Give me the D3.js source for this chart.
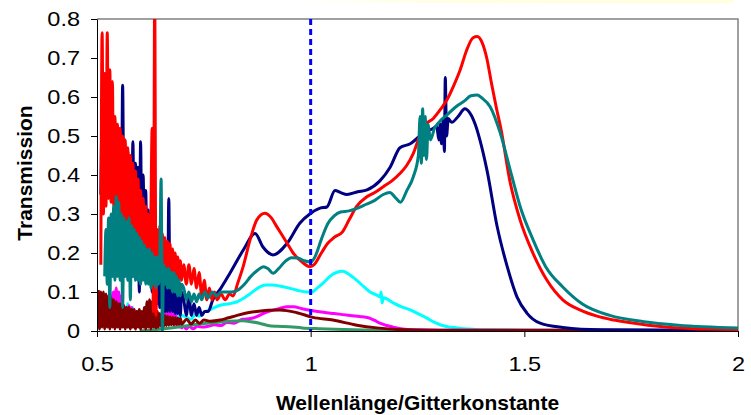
<!DOCTYPE html>
<html>
<head>
<meta charset="utf-8">
<script src="https://cdn.jsdelivr.net/npm/d3@7"></script>
<style>
  body { margin: 0; background: #fff; }
  svg { display: block; font-family: "Liberation Sans", Arial, sans-serif; }
  .axis text { font-size: 21px; fill: #000; }
  .axis path, .axis line { stroke: #000; }
  .axis-title { font-size: 21px; font-weight: bold; fill: #000; }
</style>
</head>
<body>
<svg id="chart"></svg>
<script>
// Axis ticks
const xTicks = [0.5, 1, 1.5, 2];
const yTicks = [0, 0.1, 0.2, 0.3, 0.4, 0.5, 0.6, 0.7, 0.8];
const markerX = 1;

// Noisy short-wavelength part, sampled every noiseStep from noiseStart
const noiseStart = 0.503;
const noiseStep = 0.003;

const redNoise = [null, null, 0.17, 0.765, 0.30, 0.66, 0.32, 0.765, 0.34, 0.67,
  0.33, 0.64, 0.32, 0.55, 0.31, 0.53, 0.30, 0.52, 0.29, 0.50,
  0.28, 0.49, 0.28, 0.47, 0.27, 0.45, 0.27, 0.43, 0.26, 0.41,
  0.25, 0.39, 0.24, 0.36, 0.23, 0.34, 0.22, 0.32, 0.21, 0.30,
  0.20, 0.29, 0.52, 0.05, 0.86, 0.04, 0.26, 0.17, 0.27, 0.16,
  0.25, 0.16, 0.24, 0.15, 0.23, 0.15, 0.225, 0.14, 0.21, 0.14,
  0.20, 0.13, 0.19, 0.13, 0.18, 0.13];

const navyNoise = [null, null, 0.35, 0.55, 0.34, 0.58, 0.36, 0.55, 0.35, 0.56,
  0.34, 0.52, 0.33, 0.50, 0.33, 0.48, 0.32, 0.46, 0.30, 0.63,
  0.30, 0.47, 0.28, 0.46, 0.27, 0.44, 0.27, 0.485, 0.26, 0.43,
  0.25, 0.42, 0.10, 0.485, 0.22, 0.40, 0.20, 0.36, 0.18, 0.31,
  0.14, 0.25, 0.10, 0.20, 0.08, 0.18, 0.07, 0.17, 0.06, 0.19,
  0.06, 0.17, 0.05, 0.22, 0.05, 0.34, 0.05, 0.15, 0.05, 0.13,
  0.045, 0.12, 0.045, 0.11, 0.04, 0.10];

const tealNoise = [null, null, null, null, null, 0.14, 0.26, 0.12, 0.29, 0.06,
  0.30, 0.14, 0.32, 0.13, 0.345, 0.14, 0.33, 0.13, 0.30, 0.06,
  0.29, 0.14, 0.28, 0.13, 0.29, 0.08, 0.27, 0.14, 0.26, 0.13,
  0.25, 0.13, 0.24, 0.12, 0.23, 0.13, 0.22, 0.12, 0.21, 0.12,
  0.21, 0.11, 0.20, 0.12, 0.19, 0.11, 0.19, 0.12, 0.18, 0.39,
  0.0, 0.17, 0.12, 0.16, 0.11, 0.16, 0.11, 0.15, 0.10, 0.15,
  0.10, 0.14, 0.09, 0.13, 0.09, 0.12];

const maroonNoise = [0.105, 0.005, 0.10, 0.01, 0.10, 0.005, 0.095, 0.01, 0.09, 0.005,
  0.085, 0.01, 0.08, 0.005, 0.075, 0.01, 0.07, 0.005, 0.07, 0.01,
  0.065, 0.005, 0.06, 0.01, 0.06, 0.005, 0.055, 0.01, 0.055, 0.005,
  0.05, 0.01, 0.055, 0.005, 0.05, 0.01, 0.06, 0.005, 0.075, 0.01,
  0.08, 0.005, 0.075, 0.01, 0.06, 0.008, 0.05, 0.01, 0.045, 0.012,
  0.04, 0.012, 0.04, 0.014, 0.038, 0.015, 0.036, 0.016, 0.035, 0.016,
  0.034, 0.017, 0.033, 0.018, 0.032, 0.018];

const magentaNoise = [0.02, 0.06, 0.02, 0.06, 0.02, 0.065, 0.02, 0.06, 0.03, 0.07,
  0.03, 0.09, 0.10, 0.04, 0.11, 0.04, 0.10, 0.035, 0.09, 0.03,
  0.065, 0.03, 0.06, 0.025, 0.065, 0.02, 0.06, 0.02, 0.05, 0.02,
  0.05, 0.015, 0.045, 0.015, 0.045, 0.015, 0.04, 0.015, 0.045, 0.015,
  0.05, 0.02, 0.055, 0.02, 0.05, 0.015, 0.04, 0.015, 0.035, 0.015,
  0.04, 0.02, 0.05, 0.025, 0.065, 0.03, 0.075, 0.03, 0.07, 0.02,
  0.05, 0.015, 0.03, 0.01, 0.015, 0.008];

const cyanNoise = [0.03, 0.05, 0.025, 0.05, 0.03, 0.045, 0.025, 0.05, 0.03, 0.045,
  0.025, 0.05, 0.03, 0.055, 0.025, 0.05, 0.03, 0.045, 0.02, 0.06,
  0.03, 0.045, 0.02, 0.07, 0.03, 0.04, 0.02, 0.06, 0.03, 0.04,
  0.02, 0.035, 0.02, 0.03, 0.015, 0.03, 0.015, 0.03, 0.02, 0.035,
  0.02, 0.035, 0.02, 0.035, 0.025, 0.035, 0.025, 0.035, 0.03, 0.04,
  0.03, 0.04, 0.03, 0.04, 0.03, 0.04, 0.03, 0.04, 0.032, 0.042,
  0.032, 0.042, 0.034, 0.042, 0.035, 0.04];

// Smoother long-wavelength part as [wavelength/period, transmission]
const redCurve = [[0.703, 0.17], [0.709, 0.12], [0.715, 0.17], [0.721, 0.12], [0.727, 0.16],
  [0.733, 0.11], [0.739, 0.15], [0.745, 0.09], [0.751, 0.13], [0.757, 0.08], [0.763, 0.11],
  [0.769, 0.08], [0.775, 0.10], [0.781, 0.08], [0.79, 0.095], [0.80, 0.08], [0.81, 0.095],
  [0.818, 0.09], [0.83, 0.125], [0.842, 0.165], [0.858, 0.233], [0.874, 0.285], [0.893, 0.302],
  [0.908, 0.29], [0.921, 0.267], [0.945, 0.225], [0.959, 0.20], [0.982, 0.175], [0.998, 0.165],
  [1.008, 0.17], [1.025, 0.20], [1.04, 0.225], [1.055, 0.24], [1.075, 0.255], [1.09, 0.285],
  [1.108, 0.32], [1.13, 0.343], [1.15, 0.355], [1.17, 0.37], [1.19, 0.385], [1.21, 0.405],
  [1.225, 0.425], [1.24, 0.455], [1.255, 0.50], [1.265, 0.525], [1.287, 0.545], [1.305, 0.57],
  [1.32, 0.595], [1.335, 0.63], [1.35, 0.67], [1.365, 0.72], [1.38, 0.752], [1.39, 0.755],
  [1.401, 0.74], [1.412, 0.70], [1.424, 0.63], [1.435, 0.57], [1.445, 0.52], [1.467, 0.38],
  [1.49, 0.285], [1.52, 0.20], [1.553, 0.13], [1.59, 0.08], [1.63, 0.054], [1.67, 0.038],
  [1.71, 0.028], [1.79, 0.015], [1.864, 0.008], [1.93, 0.005], [2.0, 0.004]];

const navyCurve = [[0.703, 0.08], [0.709, 0.04], [0.715, 0.09], [0.721, 0.04], [0.727, 0.07],
  [0.733, 0.04], [0.739, 0.06], [0.745, 0.04], [0.752, 0.05], [0.76, 0.05], [0.771, 0.08],
  [0.79, 0.11], [0.811, 0.148], [0.842, 0.207], [0.87, 0.25], [0.888, 0.216], [0.912, 0.195],
  [0.945, 0.225], [0.975, 0.277], [0.998, 0.30], [1.022, 0.315], [1.038, 0.318], [1.057, 0.36],
  [1.07, 0.355], [1.085, 0.35], [1.11, 0.357], [1.132, 0.362], [1.162, 0.385], [1.186, 0.42],
  [1.209, 0.47], [1.233, 0.48], [1.263, 0.507], [1.287, 0.52], [1.295, 0.525], [1.30, 0.49],
  [1.303, 0.53], [1.306, 0.48], [1.31, 0.54], [1.313, 0.46], [1.315, 0.65], [1.318, 0.50],
  [1.322, 0.545], [1.33, 0.535], [1.345, 0.55], [1.361, 0.57], [1.372, 0.56], [1.385, 0.53],
  [1.396, 0.49], [1.413, 0.41], [1.436, 0.27], [1.46, 0.165], [1.483, 0.087], [1.506, 0.046],
  [1.537, 0.02], [1.59, 0.009], [1.68, 0.003], [2.0, 0.001]];

const tealCurve = [[0.703, 0.11], [0.709, 0.08], [0.715, 0.10], [0.721, 0.075], [0.727, 0.095],
  [0.733, 0.075], [0.739, 0.095], [0.745, 0.08], [0.752, 0.10], [0.76, 0.085], [0.77, 0.10],
  [0.78, 0.09], [0.79, 0.10], [0.80, 0.10], [0.815, 0.10], [0.83, 0.105], [0.845, 0.12],
  [0.86, 0.14], [0.875, 0.155], [0.89, 0.165], [0.90, 0.16], [0.912, 0.148], [0.925, 0.16],
  [0.94, 0.178], [0.955, 0.188], [0.97, 0.187], [0.985, 0.18], [1.0, 0.177], [1.01, 0.19],
  [1.025, 0.235], [1.04, 0.275], [1.055, 0.295], [1.07, 0.305], [1.09, 0.308], [1.11, 0.315],
  [1.13, 0.325], [1.15, 0.335], [1.17, 0.35], [1.185, 0.355], [1.20, 0.34], [1.21, 0.33],
  [1.225, 0.36], [1.24, 0.395], [1.252, 0.45], [1.256, 0.55], [1.259, 0.43], [1.262, 0.57],
  [1.265, 0.45], [1.268, 0.55], [1.271, 0.44], [1.275, 0.53], [1.28, 0.49], [1.29, 0.52],
  [1.30, 0.535], [1.32, 0.555], [1.34, 0.575], [1.36, 0.59], [1.375, 0.603], [1.39, 0.605],
  [1.40, 0.598], [1.42, 0.575], [1.443, 0.51], [1.47, 0.40], [1.49, 0.32], [1.52, 0.235],
  [1.55, 0.165], [1.59, 0.113], [1.635, 0.07], [1.70, 0.04], [1.78, 0.024], [1.86, 0.015],
  [2.0, 0.008]];

const cyanCurve = [[0.71, 0.035], [0.72, 0.03], [0.73, 0.042], [0.74, 0.038], [0.75, 0.048],
  [0.765, 0.055], [0.788, 0.066], [0.81, 0.07], [0.828, 0.075], [0.845, 0.085], [0.858, 0.095],
  [0.87, 0.105], [0.881, 0.113], [0.895, 0.118], [0.91, 0.118], [0.93, 0.115], [0.95, 0.11],
  [0.97, 0.104], [0.99, 0.10], [1.003, 0.10], [1.015, 0.11], [1.029, 0.123], [1.045, 0.14],
  [1.06, 0.15], [1.075, 0.153], [1.09, 0.145], [1.108, 0.13], [1.125, 0.113], [1.139, 0.10],
  [1.155, 0.092], [1.162, 0.088], [1.165, 0.10], [1.167, 0.072], [1.17, 0.085], [1.193, 0.072],
  [1.21, 0.063], [1.233, 0.054], [1.25, 0.045], [1.272, 0.033], [1.29, 0.022], [1.303, 0.016],
  [1.32, 0.011], [1.343, 0.008], [1.37, 0.005], [1.40, 0.003], [1.5, 0.002], [2.0, 0.001]];

const magentaCurve = [[0.703, 0.012], [0.709, 0.005], [0.715, 0.012], [0.725, 0.006], [0.735, 0.012],
  [0.748, 0.01], [0.76, 0.012], [0.775, 0.016], [0.79, 0.014], [0.804, 0.022], [0.82, 0.02],
  [0.84, 0.03], [0.86, 0.032], [0.874, 0.037], [0.89, 0.045], [0.91, 0.053], [0.928, 0.058],
  [0.945, 0.062], [0.96, 0.062], [0.98, 0.057], [1.005, 0.052], [1.03, 0.048], [1.052, 0.045],
  [1.075, 0.042], [1.092, 0.04], [1.115, 0.037], [1.135, 0.034], [1.15, 0.027], [1.162, 0.02],
  [1.178, 0.014], [1.193, 0.01], [1.215, 0.005], [1.24, 0.003], [1.3, 0.002], [2.0, 0.001]];

const maroonCurve = [[0.71, 0.03], [0.72, 0.018], [0.73, 0.028], [0.74, 0.02], [0.75, 0.028],
  [0.765, 0.025], [0.788, 0.028], [0.808, 0.034], [0.828, 0.04], [0.85, 0.046], [0.874, 0.05],
  [0.90, 0.053], [0.928, 0.054], [0.968, 0.047], [1.005, 0.035], [1.052, 0.028], [1.108, 0.015],
  [1.155, 0.008], [1.20, 0.004], [1.3, 0.002], [2.0, 0.001]];

const greenCurve = [[0.60, 0.0], [0.65, 0.005], [0.70, 0.012], [0.74, 0.018], [0.78, 0.022],
  [0.81, 0.025], [0.84, 0.026], [0.86, 0.024], [0.88, 0.02], [0.90, 0.014], [0.92, 0.012],
  [0.95, 0.011], [0.98, 0.008], [1.02, 0.006], [1.08, 0.004], [1.15, 0.002], [1.25, 0.001],
  [2.0, 0.0]];

class SpectrumChart {

  constructor(_config, _data) {
    this.config = {
      parentElement: _config.parentElement,
      containerWidth: _config.containerWidth || 751,
      containerHeight: _config.containerHeight || 415,
      margin: _config.margin || { top: 19, right: 13, bottom: 84, left: 97 },
      // the original picture is a little stretched sideways; tick labels follow that
      labelStretch: _config.labelStretch || 1.12
    };
    this.data = _data;
    this.initVis();
  }

  initVis() {
    let vis = this;

    vis.width = vis.config.containerWidth - vis.config.margin.left - vis.config.margin.right;
    vis.height = vis.config.containerHeight - vis.config.margin.top - vis.config.margin.bottom;

    vis.xScale = d3.scaleLinear()
        .domain([0.5, 2])
        .range([0, vis.width]);

    vis.yScale = d3.scaleLinear()
        .domain([0, 0.8])
        .range([vis.height, 0]);

    vis.xAxis = d3.axisBottom(vis.xScale)
        .tickValues(xTicks)
        .tickFormat(d => d3.format('')(d))
        .tickSize(6)
        .tickSizeOuter(0)
        .tickPadding(19);

    vis.yAxis = d3.axisLeft(vis.yScale)
        .tickValues(yTicks)
        .tickFormat(d => d === 0 ? '0' : d3.format('.1f')(d))
        .tickSize(6)
        .tickSizeOuter(0)
        .tickPadding(11);

    vis.svg = d3.select(vis.config.parentElement)
        .attr('width', vis.config.containerWidth)
        .attr('height', vis.config.containerHeight);

    let defs = vis.svg.append('defs');

    // faint yellow strip at the very top
    let grad = defs.append('linearGradient')
        .attr('id', 'topStrip');
    grad.append('stop').attr('offset', '0%').attr('stop-color', '#ffffff');
    grad.append('stop').attr('offset', '35%').attr('stop-color', '#ffffe2');
    grad.append('stop').attr('offset', '100%').attr('stop-color', '#ffffdc');
    vis.svg.append('rect')
        .attr('x', 300).attr('y', 0)
        .attr('width', 433).attr('height', 3)
        .attr('fill', 'url(#topStrip)');

    defs.append('clipPath')
        .attr('id', 'plotClip')
      .append('rect')
        .attr('width', vis.width)
        .attr('height', vis.height);

    vis.chart = vis.svg.append('g')
        .attr('transform', `translate(${vis.config.margin.left},${vis.config.margin.top})`);

    // grey frame on top and right
    vis.chart.append('path')
        .attr('d', `M0,0H${vis.width}V${vis.height}`)
        .attr('fill', 'none')
        .attr('stroke', '#808080')
        .attr('stroke-width', 1.5);

    vis.linesG = vis.chart.append('g')
        .attr('clip-path', 'url(#plotClip)');

    vis.xAxisG = vis.chart.append('g')
        .attr('class', 'axis x-axis')
        .attr('transform', `translate(0,${vis.height})`);

    vis.yAxisG = vis.chart.append('g')
        .attr('class', 'axis y-axis');

    vis.chart.append('text')
        .attr('class', 'axis-title')
        .attr('x', vis.width / 2)
        .attr('y', 391)
        .attr('text-anchor', 'middle')
        .text('Wellenlänge/Gitterkonstante');

    vis.svg.append('text')
        .attr('class', 'axis-title')
        .attr('transform', 'translate(32,173) rotate(-90)')
        .attr('text-anchor', 'middle')
        .text('Transmission');
  }

  updateVis() {
    let vis = this;

    vis.series = vis.data.map(s => {
      let pts = (s.noise || []).map((v, i) => [noiseStart + i * noiseStep, v]);
      return { color: s.color, points: pts.concat(s.curve) };
    });

    vis.line = d3.line()
        .defined(d => d[1] !== null)
        .x(d => vis.xScale(d[0]))
        .y(d => vis.yScale(d[1]))
        .curve(d3.curveMonotoneX);

    vis.renderVis();
  }

  renderVis() {
    let vis = this;

    vis.linesG.selectAll('.series')
        .data(vis.series)
      .join('path')
        .attr('class', 'series')
        .attr('fill', 'none')
        .attr('stroke', d => d.color)
        .attr('stroke-width', 3)
        .attr('stroke-linejoin', 'round')
        .attr('d', d => vis.line(d.points));

    // dashed marker at wavelength = grating period
    vis.linesG.append('line')
        .attr('x1', vis.xScale(markerX))
        .attr('x2', vis.xScale(markerX))
        .attr('y1', 0)
        .attr('y2', vis.height)
        .attr('stroke', '#0000ff')
        .attr('stroke-width', 3)
        .attr('stroke-dasharray', '6,4');

    vis.xAxisG.call(vis.xAxis);
    vis.yAxisG.call(vis.yAxis);

    // widen the tick labels a bit
    vis.chart.selectAll('.axis .tick text').each(function() {
      let len = this.getComputedTextLength();
      d3.select(this)
          .attr('textLength', len * vis.config.labelStretch)
          .attr('lengthAdjust', 'spacingAndGlyphs');
    });
  }
}

const seriesData = [
  { color: '#00ffff', noise: cyanNoise, curve: cyanCurve },
  { color: '#ff00ff', noise: magentaNoise, curve: magentaCurve },
  { color: '#339966', noise: null, curve: greenCurve },
  { color: '#800000', noise: maroonNoise, curve: maroonCurve },
  { color: '#000080', noise: navyNoise, curve: navyCurve },
  { color: '#ff0000', noise: redNoise, curve: redCurve },
  { color: '#008080', noise: tealNoise, curve: tealCurve }
];

const chart = new SpectrumChart({ parentElement: '#chart' }, seriesData);
chart.updateVis();
</script>
</body>
</html>
